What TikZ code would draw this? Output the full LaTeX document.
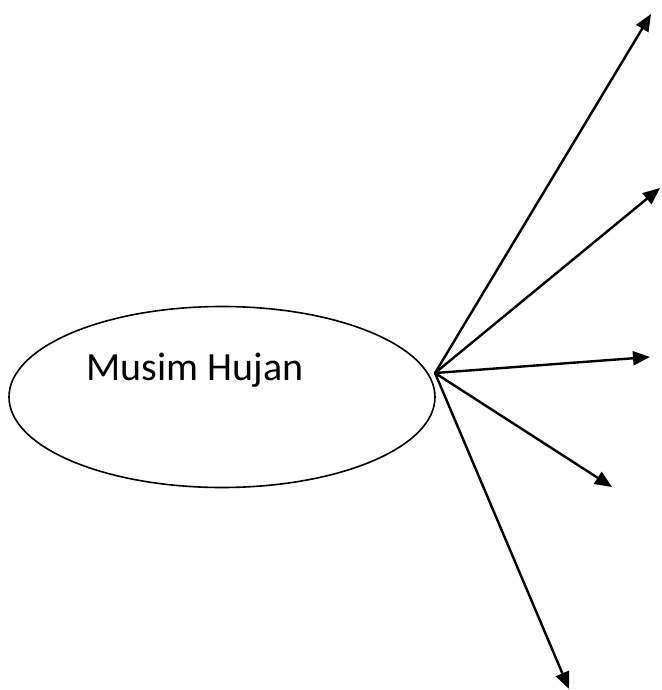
\documentclass[tikz,border=0pt]{standalone}
\usepackage{fontspec}
\setmainfont{Carlito}
\usetikzlibrary{shapes.geometric,arrows.meta}
\begin{document}
\begin{tikzpicture}[x=1pt,y=-1pt,
  oval/.style={draw,ellipse,line width=1.6pt,minimum width=426pt,minimum height=181pt,inner sep=0pt},
  branch/.style={line width=2.4pt,-{Triangle[length=17pt,width=14pt]}}]
\useasboundingbox (0,0) rectangle (661,690);
\node[oval] (musim) at (222,397) {};
\node[font=\fontsize{40}{48}\selectfont,anchor=base,inner sep=0pt] (musimtext) at (195,380) {Musim Hujan};
\coordinate (hub) at (435,373);
\coordinate (e1) at (651,14);
\coordinate (e2) at (660,188);
\coordinate (e3) at (650,357);
\coordinate (e4) at (612,487);
\coordinate (e5) at (569,689);
\foreach \e in {e1,e2,e3,e4,e5}
  \draw[branch] (hub) -- (\e);
\end{tikzpicture}
\end{document}
